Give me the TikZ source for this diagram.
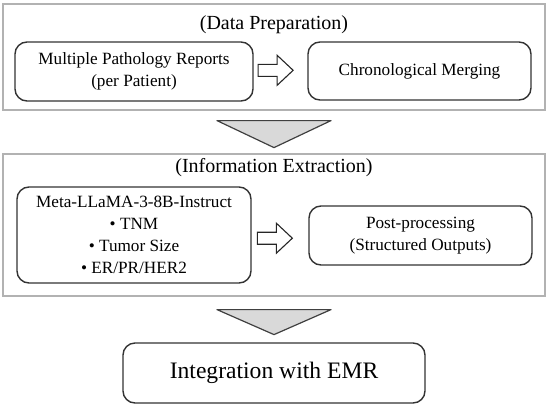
\documentclass[tikz,border=0pt]{standalone}
\usepackage{fontspec}
\setmainfont{Liberation Serif}
\usetikzlibrary{calc,positioning}
\tikzset{
  stagebox/.style={draw=gray!60, line width=0.6pt, inner sep=0pt},
  stepbox/.style={draw=black!80, line width=0.7pt, rounded corners=6pt, align=center,
    font=\fontsize{8.6}{11}\selectfont, inner sep=0pt},
  titletext/.style={font=\fontsize{10}{12}\selectfont, inner sep=0pt},
  flowarrow/.style={draw=black!85, fill=white, line width=0.55pt, line join=miter},
  funnel/.style={draw=black!75, fill=gray!30, line width=0.6pt, line join=round},
}
\newcommand{\blockarrow}[1]{%
  \draw[flowarrow] ($(#1)+(-17,-6)$) -- ++(19,0) -- ++(0,-9) -- ++(16,15)
    -- ++(-16,15) -- ++(0,-9) -- ++(-19,0) -- cycle;
}

\begin{document}
\begin{tikzpicture}[x=0.5pt, y=-0.5pt]
    \useasboundingbox (0,0) rectangle (550,407);
    % --- data preparation ---
    \node[stagebox, minimum width=271pt, minimum height=53pt] (prep) at (274,57) {};
    \node[titletext] (prepttl) at (274,25) {(Data Preparation)};
    \node[stepbox, minimum width=119pt, minimum height=29.5pt] (reports) at (134,71.5)
      {Multiple Pathology Reports\\(per Patient)};
    \node[stepbox, minimum width=111.5pt, minimum height=29pt] (merge) at (419.5,71)
      {Chronological Merging};
    \coordinate (arrA) at ($(reports.east)!0.4!(merge.west)+(0,-1)$);
    \blockarrow{arrA}
    % --- funnel ---
    \draw[funnel] ($(prep.south)+(-57,10)$) -- ($(prep.south)+(57,10)$)
      -- ($(prep.south)+(0,37)$) -- cycle;
    % --- information extraction ---
    \node[stagebox, minimum width=271pt, minimum height=71pt] (extract) at (274,225) {};
    \node[titletext] (extractttl) at (274,168) {(Information Extraction)};
    \node[stepbox, minimum width=117pt, minimum height=48pt] (llama) at (134,235)
      {Meta-LLaMA-3-8B-Instruct\\\textbullet\ TNM\\\textbullet\ Tumor Size\\\textbullet\ ER/PR/HER2};
    \node[stepbox, minimum width=111.5pt, minimum height=29.5pt] (post) at (420.5,235.5)
      {Post-processing\\(Structured Outputs)};
    \coordinate (arrB) at ($(llama.east)!0.4!(post.west)+(0,3)$);
    \blockarrow{arrB}
    % --- funnel ---
    \draw[funnel] ($(extract.south)+(-57,13)$) -- ($(extract.south)+(57,13)$)
      -- ($(extract.south)+(0,38)$) -- cycle;
    % --- integration ---
    \node[stepbox, minimum width=151pt, minimum height=30pt,
      font=\fontsize{11.8}{14}\selectfont] (emr) at (274,373) {Integration with EMR};
  \end{tikzpicture}
\end{document}
